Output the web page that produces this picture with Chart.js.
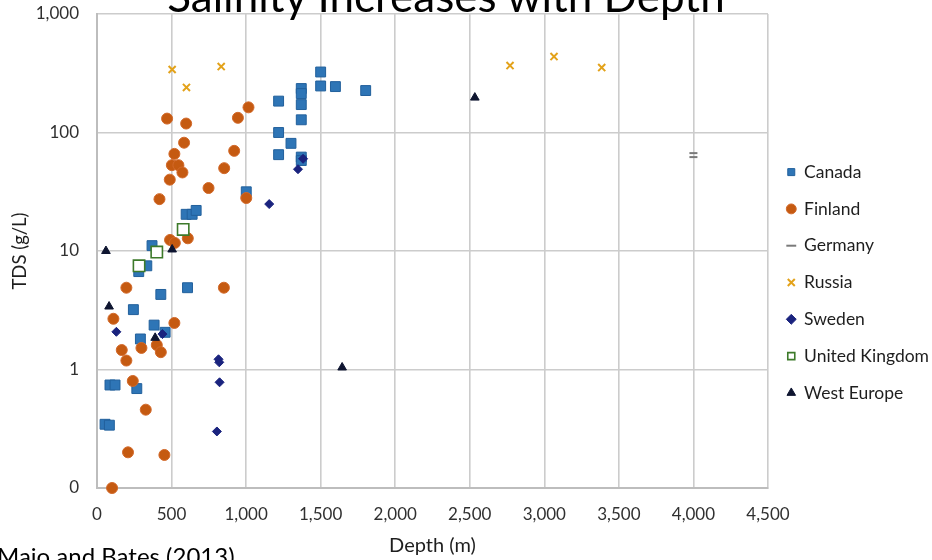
<!DOCTYPE html>
<html>
<head>
<meta charset="utf-8">
<script src="https://cdn.jsdelivr.net/npm/chart.js@4/dist/chart.umd.min.js"></script>
<style>
  html, body { margin: 0; padding: 0; background: #fff; overflow: hidden; }
  #wrap { position: relative; width: 932px; height: 560px; overflow: hidden; background: #fff; }
  #chart { position: absolute; left: 0; top: 0; }
  #title { position: absolute; left: 0; width: 892px; top: -27px; text-align: center;
           font-family: Lato, "Open Sans", sans-serif; font-size: 44px; line-height: 44px;
           color: #000; white-space: nowrap; }
  #note { position: absolute; left: -3px; top: 544px; font-family: Lato, "Open Sans", sans-serif;
          font-size: 24px; line-height: 24px; color: #000; white-space: nowrap; }
</style>
</head>
<body>
<div id="wrap">
  <canvas id="chart" width="932" height="560"></canvas>
  <div id="title">Salinity Increases with Depth</div>
  <div id="note">Maio and Bates (2013)</div>
</div>
<script>
// ---- data (depth in m, TDS in g/L) ----
const canadaDepth = [1500,1500,1599,1802,1370,1370,1370,1218,1370,1218,1301,1218,1370,1370,1001,598,638,665,369,334,280,607,428,244,383,457,291,87,121,267,54,83];
const canadaTDS   = [324,247,244,226,235,213,172,184,128,100,81,65,62,58,31.6,20.4,20.4,22,11.1,7.5,6.7,4.9,4.3,3.2,2.37,2.06,1.81,0.74,0.74,0.69,0.345,0.339];

const finlandDepth = [1016,470,945,598,584,920,519,502,546,573,853,488,748,1001,419,609,490,522,197,851,110,519,166,298,401,428,197,240,327,208,452,101];
const finlandTDS   = [163,131,133,119,82,70,66,53,53,46,50,40,34,28,27.4,12.8,12.4,11.7,4.9,4.9,2.68,2.47,1.46,1.52,1.61,1.40,1.19,0.80,0.458,0.20,0.19,0.1];

const germanyDepth = [4000,4000];
const germanyTDS   = [67,62];

const russiaDepth = [504,833,600,2770,3065,3385];
const russiaTDS   = [340,360,240,367,437,353];

const swedenDepth = [1348,1382,1155,130,439,815,820,822,804];
const swedenTDS   = [49,60,24.9,2.08,1.99,1.22,1.15,0.78,0.30];

const ukDepth = [578,401,282];
const ukTDS   = [15.2,9.8,7.5];

const westEuropeDepth = [60,504,81,390,1644,2534];
const westEuropeTDS   = [10,10.3,3.4,1.85,1.04,197];

const seriesNames = ["Canada","Finland","Germany","Russia","Sweden","United Kingdom","West Europe"];

const yTickValues = [0.1, 1, 10, 100, 1000];
const yTickLabels = ["0", "1", "10", "100", "1,000"];
const xTickStep = 500;
const xMin = 0, xMax = 4500;

// ---- build ----
function pts(xs, ys) { return xs.map((x, i) => ({ x: x, y: ys[i] })); }

const FONT = "Lato";
const TXT = "#303030";

const styles = [
  { style: "rect",     radius: 7,   bg: "#2E75B6", border: "#22609C", bw: 1 },
  { style: "circle",   radius: 5.5, bg: "#C55A11", border: "#D2692A", bw: 1 },
  { style: "line",     radius: 4,   bg: "#7A7A7A", border: "#7A7A7A", bw: 2 },
  { style: "crossRot", radius: 5,   bg: "#E3A21A", border: "#E3A21A", bw: 2 },
  { style: "rectRot",  radius: 4.5, bg: "#1A237E", border: "#1A237E", bw: 1 },
  { style: "rect",     radius: 8,   bg: "#FFFFFF", border: "#3D7A2A", bw: 1.6 },
  { style: "triangle", radius: 5,   bg: "#0E1530", border: "#0E1530", bw: 1 }
];
const dataPairs = [
  [canadaDepth, canadaTDS], [finlandDepth, finlandTDS], [germanyDepth, germanyTDS],
  [russiaDepth, russiaTDS], [swedenDepth, swedenTDS], [ukDepth, ukTDS],
  [westEuropeDepth, westEuropeTDS]
];

const datasets = seriesNames.map((name, i) => ({
  label: name,
  data: pts(dataPairs[i][0], dataPairs[i][1]),
  pointStyle: styles[i].style,
  pointRadius: styles[i].radius,
  pointHoverRadius: styles[i].radius,
  backgroundColor: styles[i].bg,
  borderColor: styles[i].border,
  pointBorderWidth: styles[i].bw,
  borderWidth: styles[i].bw,
  order: seriesNames.length - i,
  clip: false
}));

new Chart(document.getElementById("chart"), {
  type: "scatter",
  data: { datasets: datasets },
  options: {
    responsive: false,
    animation: false,
    layout: { padding: { top: 5, right: -7, bottom: 0, left: 0 } },
    plugins: {
      tooltip: { enabled: false },
      legend: {
        position: "right",
        align: "center",
        labels: {
          usePointStyle: true,
          boxWidth: 8,
          boxHeight: 7,
          padding: 19.3,
          color: "#1E1E1E",
          font: { family: FONT, size: 17.5 },
          sort: (a, b) => a.datasetIndex - b.datasetIndex
        }
      }
    },
    scales: {
      x: {
        type: "linear",
        min: xMin, max: xMax,
        ticks: {
          stepSize: xTickStep, padding: 16, color: TXT,
          font: { family: FONT, size: 17 },
          callback: v => Number(v).toLocaleString("en-US")
        },
        grid: { color: "#CCCCCC", lineWidth: 1.6, drawTicks: false },
        border: { color: "#BDBDBD", width: 2 },
        title: { display: true, text: "Depth (m)", color: "#1E1E1E",
                 font: { family: FONT, size: 20 }, padding: { top: 2, bottom: 2 } },
        afterFit: s => { s.height = 72; }
      },
      y: {
        type: "logarithmic",
        min: yTickValues[0], max: yTickValues[yTickValues.length - 1],
        afterBuildTicks: s => { s.ticks = yTickValues.map(v => ({ value: v, major: true })); },
        ticks: {
          padding: 18, color: TXT, autoSkip: false,
          font: { family: FONT, size: 17 },
          callback: v => {
            const i = yTickValues.findIndex(t => Math.abs(Math.log10(t) - Math.log10(v)) < 1e-6);
            return i >= 0 ? yTickLabels[i] : "";
          }
        },
        grid: { color: "#CCCCCC", lineWidth: 1.6, drawTicks: false },
        border: { color: "#BDBDBD", width: 2 },
        title: { display: true, text: "TDS (g/L)", color: "#1E1E1E",
                 font: { family: FONT, size: 18.5 }, padding: { top: 9, bottom: 0 } },
        afterFit: s => { s.width = 97; s.paddingTop = 14; s.paddingBottom = 0; }
      }
    }
  }
});
</script>
</body>
</html>
